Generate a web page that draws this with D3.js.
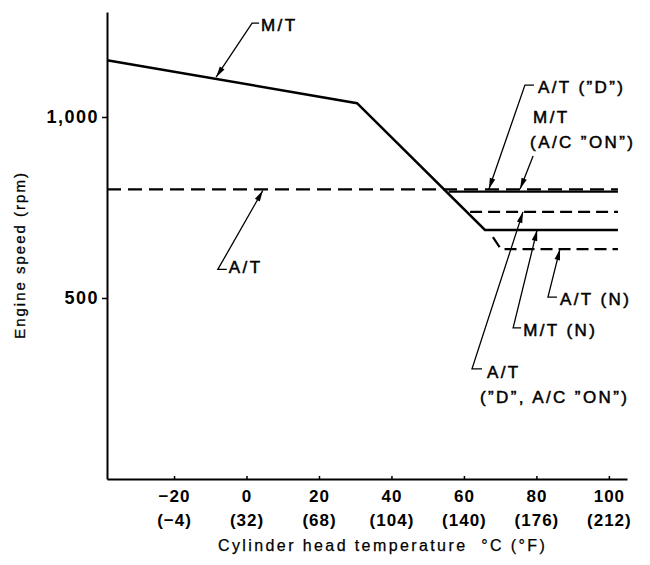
<!DOCTYPE html>
<html>
<head>
<meta charset="utf-8">
<script src="https://cdn.jsdelivr.net/npm/d3@7"></script>
<style>
body { margin: 0; background: #fff; }
text { font-family: "Liberation Sans", Arial, sans-serif; fill: #000; }
</style>
</head>
<body>
<script>
// tick values / labels
var celsiusTicks = [-20, 0, 20, 40, 60, 80, 100];
var fahrenheitLabels = ["(\u22124)", "(32)", "(68)", "(104)", "(140)", "(176)", "(212)"];
var rpmTicks = [500, 1000];

// series (temperature in degC, engine speed in rpm)
var mtTemp = [-38.5, 30.5, 65.8, 102.5];
var mtRpm = [1157, 1038, 688, 688];
var atTemp = [-38.5, 102.5];
var atRpm = [800, 800];
var mtAcTemp = [55.8, 102.5];
var mtAcRpm = [794, 794];
var atDAcTemp = [61.7, 102.5];
var atDAcRpm = [738, 738];
var atNTemp = [68, 70.2, 102.5];
var atNRpm = [668, 635, 635];

// annotation labels and the point each arrow touches
var annoLabels = [
  ["M/T"],
  ["A/T"],
  ["A/T (\u201DD\u201D)"],
  ["M/T", "(A/C \u201DON\u201D)"],
  ["A/T", "(\u201DD\u201D, A/C \u201DON\u201D)"],
  ["M/T (N)"],
  ["A/T (N)"]
];
var annoTemp = [-8.4, 4.5, 66.9, 75.5, 76.3, 80.2, 86.5];
var annoRpm = [1110, 797, 801, 801, 738, 688, 635];

// leader layout, pixels relative to the arrow tip
var annoLayout = [
  {dx: 36, dy: -54, hook: 7, text: [[9, 2]]},
  {dx: -45, dy: 79, hook: 9, text: [[11, -2]]},
  {dx: 36, dy: -104, hook: 9, text: [[13, 2]]},
  {dx: 13, dy: -33, hook: 0, text: [[0, -39], [-3, -14]]},
  {dx: -51, dy: 157, hook: 10, text: [[15, 3], [8, 28]]},
  {dx: -24, dy: 98, hook: 8, text: [[10, 2]]},
  {dx: -12, dy: 48, hook: 9, text: [[12, 2]]}
];

var width = 650, height = 565;

var svg = d3.select("body")
    .append("svg")
    .attr("width", width)
    .attr("height", height);

var x = d3.scaleLinear().domain([-38.5, 105]).range([107, 627]);
var y = d3.scaleLinear().domain([0, 1290]).range([479, 12]);

// axes
var yAxis = svg.append("g")
    .attr("transform", "translate(" + x.range()[0] + ",0)")
    .call(d3.axisLeft(y).tickValues(rpmTicks).tickSizeInner(5).tickSizeOuter(0)
        .tickPadding(3).tickFormat(d3.format(",")));

var xAxis = svg.append("g")
    .attr("transform", "translate(0," + y.range()[0] + ")")
    .call(d3.axisBottom(x).tickValues(celsiusTicks).tickSizeInner(-3).tickSizeOuter(0)
        .tickPadding(11));

svg.selectAll(".domain").attr("stroke", "#000").attr("stroke-width", 2);
svg.selectAll(".tick line").attr("stroke", "#000").attr("stroke-width", 1.5);

yAxis.selectAll(".tick text")
    .style("font-size", "18px")
    .style("font-weight", "bold")
    .style("letter-spacing", "1.5px")
    .style("font-family", "'Liberation Sans', Arial, sans-serif");

xAxis.selectAll(".tick text")
    .style("font-size", "17px")
    .style("font-weight", "bold")
    .style("letter-spacing", "1px")
    .style("font-family", "'Liberation Sans', Arial, sans-serif");

xAxis.selectAll(".tick").each(function(d, i) {
  d3.select(this).append("text")
      .attr("y", 35)
      .attr("dy", "0.71em")
      .attr("text-anchor", "middle")
      .attr("fill", "#000")
      .style("font-size", "17px")
      .style("font-weight", "bold")
      .style("letter-spacing", "1px")
      .style("font-family", "'Liberation Sans', Arial, sans-serif")
      .text(fahrenheitLabels[i]);
});

// axis titles
svg.append("text")
    .attr("transform", "translate(25,255) rotate(-90)")
    .attr("text-anchor", "middle")
    .style("font-size", "15px")
    .style("letter-spacing", "2px")
    .style("stroke", "#000")
    .style("stroke-width", "0.3px")
    .text("Engine speed (rpm)");

svg.append("text")
    .attr("x", 218)
    .attr("y", 551)
    .style("font-size", "16px")
    .style("letter-spacing", "2.4px")
    .style("white-space", "pre")
    .style("stroke", "#000")
    .style("stroke-width", "0.25px")
    .text("Cylinder head temperature  \u00B0C (\u00B0F)");

// lines
var series = [
  {t: atTemp, r: atRpm, dash: "14,7", w: 2.4},
  {t: mtAcTemp, r: mtAcRpm, dash: null, w: 2.2},
  {t: atDAcTemp, r: atDAcRpm, dash: "12,6", w: 2.2},
  {t: atNTemp, r: atNRpm, dash: "12,6", w: 2.2},
  {t: mtTemp, r: mtRpm, dash: null, w: 2.5}
];

var line = d3.line()
    .x(function(d) { return x(d[0]); })
    .y(function(d) { return y(d[1]); });

svg.append("g")
    .selectAll("path")
    .data(series)
    .enter()
    .append("path")
    .attr("d", function(s) { return line(d3.zip(s.t, s.r)); })
    .attr("fill", "none")
    .attr("stroke", "#000")
    .attr("stroke-width", function(s) { return s.w; })
    .attr("stroke-dasharray", function(s) { return s.dash; });

// annotations with leader arrows
var annos = svg.append("g")
    .selectAll("g")
    .data(annoLabels)
    .enter()
    .append("g");

annos.each(function(lines, i) {
  var g = d3.select(this);
  var lay = annoLayout[i];
  var tx = x(annoTemp[i]), ty = y(annoRpm[i]);
  var cx = tx + lay.dx, cy = ty + lay.dy;

  var pts = [[tx, ty], [cx, cy]];
  if (lay.hook) pts.push([cx + lay.hook, cy]);
  g.append("path")
      .attr("d", d3.line()(pts))
      .attr("fill", "none")
      .attr("stroke", "#000")
      .attr("stroke-width", 1.3);

  // arrowhead
  var len = Math.sqrt(lay.dx * lay.dx + lay.dy * lay.dy);
  var ux = lay.dx / len, uy = lay.dy / len;
  var al = 11, aw = 2.8;
  var bx = tx + ux * al, by = ty + uy * al;
  g.append("path")
      .attr("d", "M" + tx + "," + ty +
          "L" + (bx - uy * aw) + "," + (by + ux * aw) +
          "L" + (bx + uy * aw) + "," + (by - ux * aw) + "Z")
      .attr("fill", "#000");

  lines.forEach(function(txt, k) {
    g.append("text")
        .attr("x", cx + lay.text[k][0])
        .attr("y", cy + lay.text[k][1])
        .attr("dy", "0.35em")
        .style("font-size", "17px")
        .style("letter-spacing", "2.4px")
        .style("stroke", "#000")
        .style("stroke-width", "0.5px")
        .text(txt);
  });
});
</script>
</body>
</html>
